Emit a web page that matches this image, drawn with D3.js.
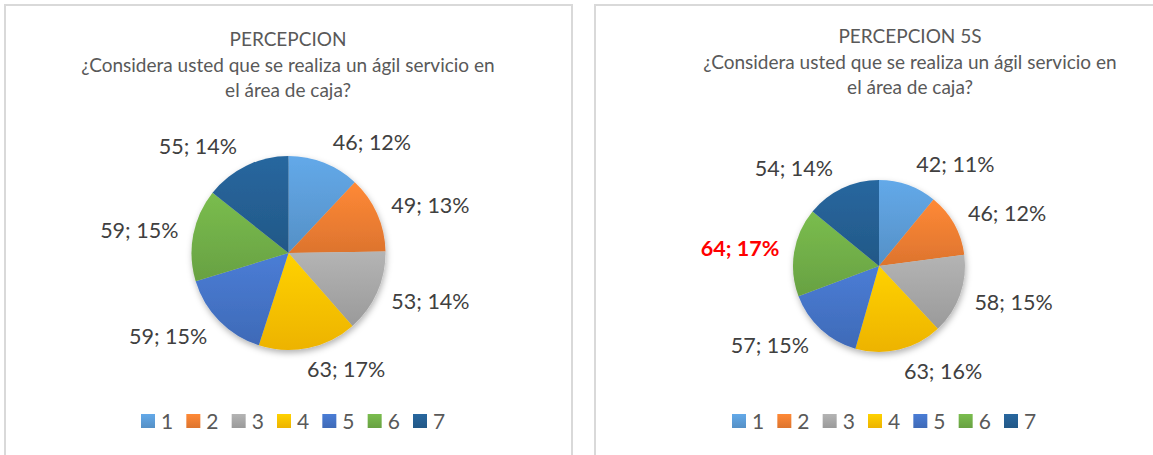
<!DOCTYPE html>
<html>
<head>
<meta charset="utf-8">
<script src="https://cdn.jsdelivr.net/npm/d3@7/dist/d3.min.js"></script>
<style>
    body { margin: 0; background: #ffffff; }
    svg { display: block; font-family: Lato, "Open Sans", sans-serif; }
</style>
</head>
<body>
<div id="wrapper"></div>
<script>
// 1. Data
const categories = ['1', '2', '3', '4', '5', '6', '7'];
const valuesPerception = [46, 49, 53, 63, 59, 59, 55];
const percentPerception = [12, 13, 14, 17, 15, 15, 14];
const valuesPerception5S = [42, 46, 58, 63, 57, 64, 54];
const percentPerception5S = [11, 12, 15, 16, 15, 17, 14];
const titlePerception = ['PERCEPCION', '¿Considera usted que se realiza un ágil servicio en', 'el área de caja?'];
const titlePerception5S = ['PERCEPCION 5S', '¿Considera usted que se realiza un ágil servicio en', 'el área de caja?'];
const highlightPerception5S = '6';

// Office palette
const palette = ['#5B9BD5', '#ED7D31', '#A5A5A5', '#FFC000', '#4472C4', '#70AD47', '#255E91'];

const dimensions = {
    width: 1153,
    height: 455,
    textColor: '#595959',
    labelColor: '#404040',
    border: '#d9d9d9'
};

const wrapper = d3.select('#wrapper')
    .append('svg')
    .attr('width', dimensions.width)
    .attr('height', dimensions.height);

const defs = wrapper.append('defs');

// gradient per colour, lighter at top, darker at bottom
palette.forEach((c, i) => {
    const grad = defs.append('linearGradient')
        .attr('id', 'grad' + i)
        .attr('x1', 0).attr('y1', 0)
        .attr('x2', 0).attr('y2', 1);
    grad.append('stop').attr('offset', '0%').attr('stop-color', d3.color(c).brighter(0.25));
    grad.append('stop').attr('offset', '100%').attr('stop-color', d3.color(c).darker(0.2));
});

const shadow = defs.append('filter')
    .attr('id', 'pieShadow')
    .attr('x', '-20%').attr('y', '-20%')
    .attr('width', '140%').attr('height', '140%');
shadow.append('feDropShadow')
    .attr('dx', 1).attr('dy', 3)
    .attr('stdDeviation', 3)
    .attr('flood-color', '#000')
    .attr('flood-opacity', 0.3);

const colorScale = d3.scaleOrdinal()
    .domain(categories)
    .range(d3.range(palette.length));

function drawPie(opts) {
    const panel = wrapper.append('g');

    // 2. Panel border
    panel.append('rect')
        .attr('x', opts.panel.x)
        .attr('y', opts.panel.y)
        .attr('width', opts.panel.width)
        .attr('height', opts.panel.height)
        .attr('fill', 'none')
        .attr('stroke', dimensions.border)
        .attr('stroke-width', 2);

    // 3. Title
    panel.append('text')
        .attr('text-anchor', 'middle')
        .attr('fill', dimensions.textColor)
        .style('font-size', '19px')
        .selectAll('tspan')
        .data(opts.title)
        .join('tspan')
        .attr('x', opts.titleX)
        .attr('y', (d, i) => opts.titleY + i * 25.5)
        .text(d => d);

    // 4. Pie
    const rows = categories.map((c, i) => ({ category: c, value: opts.values[i], percent: opts.percents[i] }));
    const pie = d3.pie()
        .sort(null)
        .value(d => d.value);
    const arcs = pie(rows);
    const arcDrawer = d3.arc()
        .innerRadius(0)
        .outerRadius(opts.r);

    const bounds = panel.append('g')
        .attr('transform', `translate(${opts.cx}, ${opts.cy})`);

    bounds.append('g')
        .attr('filter', 'url(#pieShadow)')
        .selectAll('path')
        .data(arcs)
        .join('path')
        .attr('d', arcDrawer)
        .attr('fill', d => `url(#grad${colorScale(d.data.category)})`);

    // 5. Data labels, outside end
    const labels = bounds.selectAll('text.label')
        .data(arcs)
        .join('text')
        .attr('class', 'label')
        .attr('text-anchor', 'middle')
        .attr('dy', '0.36em')
        .style('font-size', '21.5px')
        .attr('fill', d => d.data.category === opts.highlight ? '#FF0000' : dimensions.labelColor)
        .style('font-weight', d => d.data.category === opts.highlight ? 'bold' : 'normal')
        .text(d => `${d.data.value}; ${d.data.percent}%`);

    labels.each(function(d) {
        const a = (d.startAngle + d.endAngle) / 2;
        const w = this.getComputedTextLength();
        const rr = opts.r + 10;
        const px = rr * Math.sin(a);
        const py = -rr * Math.cos(a);
        const f = Math.max(-1, Math.min(1, Math.sin(a) * 4));
        d3.select(this)
            .attr('x', px + f * (w / 2 + 5))
            .attr('y', py - Math.cos(a) * 12);
    });

    // 6. Legend
    const legendScale = d3.scalePoint()
        .domain(categories)
        .range([opts.legendX - 151, opts.legendX + 121]);

    const legend = panel.append('g')
        .selectAll('g')
        .data(categories)
        .join('g')
        .attr('transform', d => `translate(${legendScale(d)}, ${opts.legendY})`);

    legend.append('rect')
        .attr('y', -7)
        .attr('width', 14)
        .attr('height', 14)
        .attr('fill', d => `url(#grad${colorScale(d)})`);

    legend.append('text')
        .attr('x', 20)
        .attr('dy', '0.36em')
        .attr('fill', dimensions.textColor)
        .style('font-size', '21px')
        .text(d => d);
}

drawPie({
    panel: { x: 5, y: 5, width: 567, height: 470 },
    title: titlePerception,
    titleX: 288,
    titleY: 46,
    values: valuesPerception,
    percents: percentPerception,
    cx: 288.5, cy: 253, r: 97,
    legendX: 292, legendY: 421,
    highlight: null
});

drawPie({
    panel: { x: 595, y: 5, width: 620, height: 470 },
    title: titlePerception5S,
    titleX: 910,
    titleY: 43,
    values: valuesPerception5S,
    percents: percentPerception5S,
    cx: 879, cy: 266, r: 86,
    legendX: 883, legendY: 421,
    highlight: highlightPerception5S
});
</script>
</body>
</html>
